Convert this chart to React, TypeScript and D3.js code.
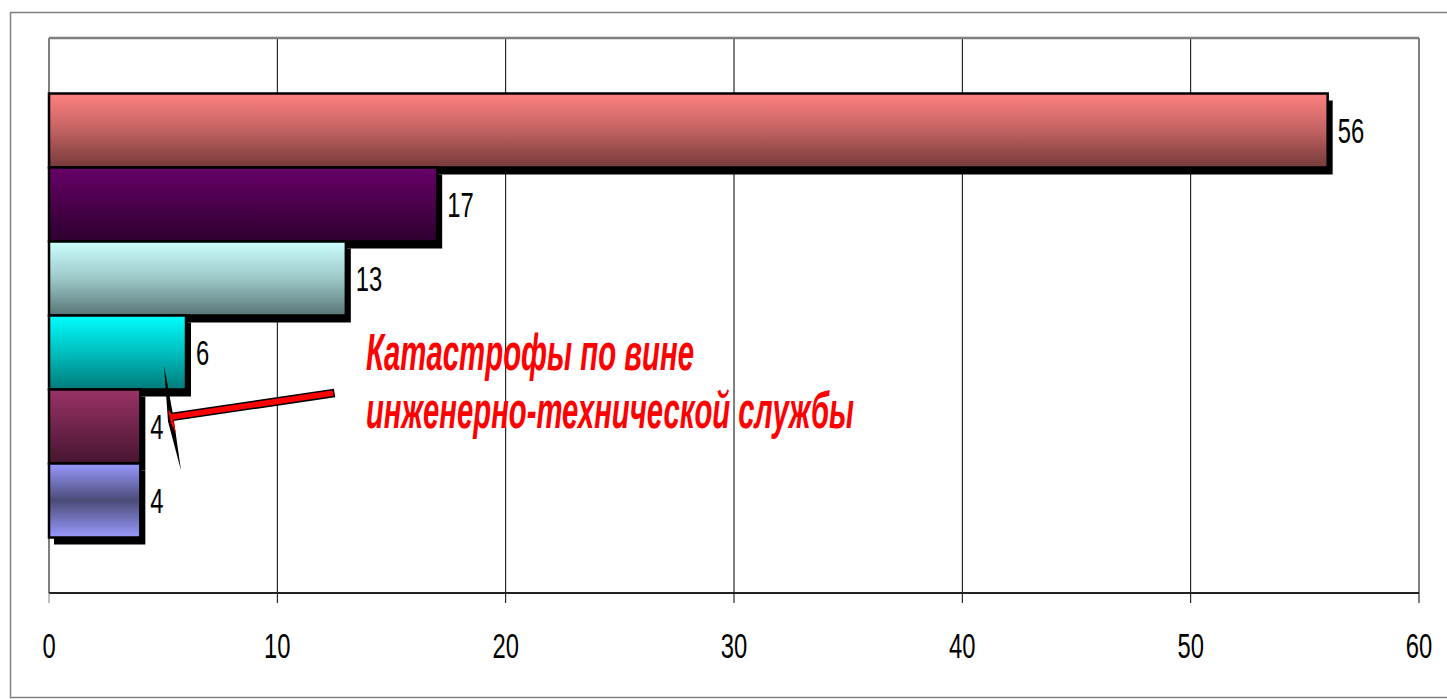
import React from "react";
import * as d3 from "d3";

// one series per bar, top to bottom
const seriesNames = ["s1", "s2", "s3", "s4", "s5", "s6"];
const seriesValues = [56, 17, 13, 6, 4, 4];
const xTicks = [0, 10, 20, 30, 40, 50, 60];
const calloutLines = ["Катастрофы по вине", "инженерно-технической службы"];

const gradients = [
  [["0%", "#ff8080"], ["45%", "#c86565"], ["100%", "#763a3a"]],
  [["0%", "#680068"], ["100%", "#2c002e"]],
  [["0%", "#ccffff"], ["50%", "#9cc8c8"], ["100%", "#587675"]],
  [["0%", "#00ffff"], ["50%", "#00bebe"], ["100%", "#007b7b"]],
  [["0%", "#993366"], ["100%", "#461630"]],
  [["0%", "#9999ff"], ["50%", "#4b4b78"], ["100%", "#9a9aff"]],
];

const W = 1447;
const H = 699;
const left = 49;
const right = 1419;
const top = 38;
const bottom = 593;
const narrow = "'Liberation Sans Narrow', 'Arial Narrow', 'Liberation Sans', Arial, sans-serif";

export default function App() {
  const x = d3.scaleLinear().domain([0, 60]).range([left, right]);
  const y = d3
    .scaleBand<string>()
    .domain(seriesNames)
    .range([top, bottom])
    .paddingInner(0)
    .paddingOuter(0.75);
  const bh = y.bandwidth();
  const sh = 7;

  const bars = seriesNames.map((n, i) => ({
    name: n,
    value: seriesValues[i],
    y0: y(n) as number,
  }));

  // callout anchor near the 5th bar
  const ax = x(5.3);
  const ay = (y("s5") as number) + 28;

  return (
    <svg
      width={W}
      height={H}
      style={{ position: "absolute", left: 0, top: 0, background: "#fff" }}
    >
      <defs>
        {gradients.map((g, i) => (
          <linearGradient key={i} id={`g${i}`} x1="0" y1="0" x2="0" y2="1">
            {g.map(([o, c]) => (
              <stop key={o} offset={o} stopColor={c} />
            ))}
          </linearGradient>
        ))}
      </defs>

      {/* outer frame */}
      <rect x={10.5} y={12.5} width={W} height={685} fill="none" stroke="#808080" strokeWidth={1.5} />

      {/* grid */}
      {xTicks.slice(1, -1).map((t) => (
        <line key={t} x1={x(t)} x2={x(t)} y1={top} y2={bottom} stroke="#000" strokeWidth={1} />
      ))}
      <line x1={left} x2={right} y1={top} y2={top} stroke="#808080" strokeWidth={2.5} />
      <line x1={left} x2={left} y1={top} y2={bottom} stroke="#808080" strokeWidth={2} />
      <line x1={right} x2={right} y1={top} y2={bottom} stroke="#808080" strokeWidth={2} />

      {/* shadows */}
      {bars.map((b) => (
        <rect key={`s${b.name}`} x={x(0) + sh - 2} y={b.y0 + sh} width={x(b.value) - x(0)} height={bh} fill="#000" />
      ))}

      {/* bars */}
      {bars.map((b, i) => (
        <rect
          key={b.name}
          x={x(0)}
          y={b.y0}
          width={x(b.value) - x(0)}
          height={bh}
          fill={`url(#g${i})`}
          stroke="#000"
          strokeWidth={2.5}
        />
      ))}

      {/* value labels */}
      {bars.map((b) => (
        <text
          key={`l${b.name}`}
          transform={`translate(${x(b.value) + 10},${b.y0 + bh / 2 + 12}) scale(0.68,1)`}
          fontFamily={narrow}
          fontSize={35}
          fill="#000"
        >
          {b.value}
        </text>
      ))}

      {/* x axis */}
      <line x1={left} x2={right} y1={bottom} y2={bottom} stroke="#222" strokeWidth={2} />
      {xTicks.map((t) => (
        <g key={t}>
          <line x1={x(t)} x2={x(t)} y1={bottom} y2={bottom + 10} stroke={t === 0 ? "#808080" : "#000"} strokeWidth={1} />
          <text
            transform={`translate(${x(t)},658) scale(0.68,1)`}
            textAnchor="middle"
            fontFamily={narrow}
            fontSize={35}
            fill="#000"
          >
            {t}
          </text>
        </g>
      ))}

      {/* callout pointer */}
      <polygon
        points={`${ax - 6},${ay - 52} ${ax + 3},${ay - 3} ${ax + 11},${ay + 53} ${ax - 2},${ay + 4}`}
        fill="#000"
      />
      <polygon
        points={`${ax + 1},${ay - 4} ${x(12.45)},${ay - 28} ${x(12.5)},${ay - 21} ${ax + 2},${ay + 3}`}
        fill="#ff0000"
        stroke="#000"
        strokeWidth={1.5}
      />
      <polygon
        points={`${ax - 2},${ay - 8} ${ax + 2},${ay - 3} ${ax + 6},${ay + 16} ${ax + 1},${ay + 6}`}
        fill="#ff0000"
      />

      {/* callout text */}
      {calloutLines.map((s, i) => (
        <text
          key={i}
          x={366}
          y={370 + i * 58}
          textLength={i === 0 ? 328 : 488}
          lengthAdjust="spacingAndGlyphs"
          fontFamily="'Liberation Sans', Arial, sans-serif"
          fontWeight="bold"
          fontStyle="italic"
          fontSize={52}
          fill="#ff0000"
        >
          {s}
        </text>
      ))}
    </svg>
  );
}
